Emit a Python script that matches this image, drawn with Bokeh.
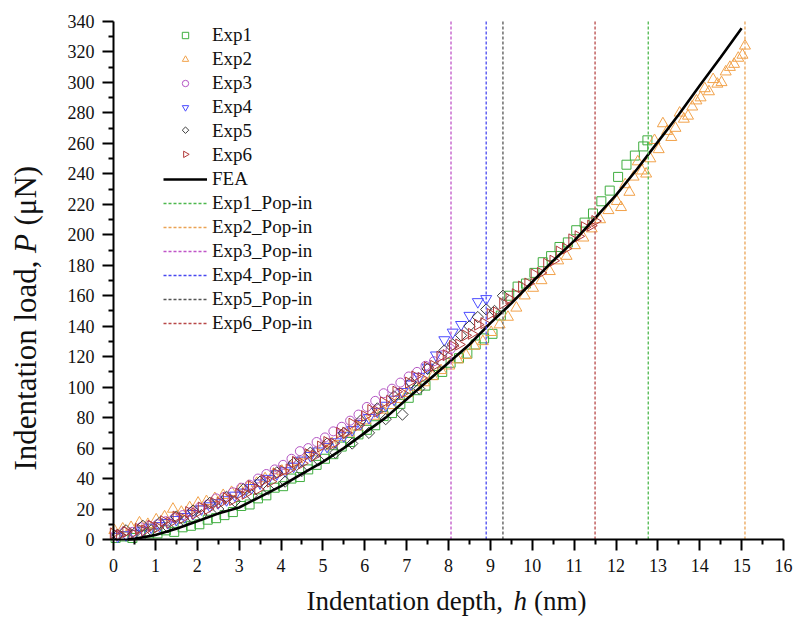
import numpy as np
from bokeh.plotting import figure
from bokeh.models import Range1d, FixedTicker, Legend, LegendItem, Label
from bokeh.embed import file_html
from bokeh.resources import INLINE

# ---------------- data ----------------
x_ticks = list(range(0, 17))
y_ticks = list(range(0, 341, 20))

fea_h = [0.35, 0.5, 1.0, 1.5, 2.0, 2.5, 3.0, 3.5, 4.0, 4.5, 5.0, 5.5, 6.0, 6.5, 7.0, 7.5,
         8.0, 8.5, 9.0, 9.5, 10.0, 10.5, 11.0, 11.5, 12.0, 12.5, 13.0, 13.5, 14.0, 14.5, 15.0]
fea_p = [0.0, 0.4, 3, 7, 12, 17, 21, 28, 35, 43, 51, 60, 70, 80, 92, 104,
         116, 128, 142, 155, 169, 183, 196, 211, 226, 243, 261, 279, 298, 316.5, 335.5]

exp1_h = [0.05, 0.25, 0.45, 0.65, 0.85, 1.05, 1.25, 1.45, 1.65, 1.85, 2.05, 2.25, 2.45, 2.65, 2.85,
          3.05, 3.25, 3.45, 3.65, 3.85, 4.05, 4.25, 4.45, 4.65, 4.85, 5.05, 5.25, 5.45, 5.65, 5.85,
          6.05, 6.25, 6.45, 6.65, 6.85, 7.05, 7.25, 7.45, 7.65, 7.85, 8.05, 8.25, 8.45, 8.65, 8.85,
          9.05, 9.25, 9.45, 9.65, 9.85, 10.05, 10.25, 10.45, 10.65, 10.85, 11.05, 11.25, 11.45,
          11.65, 11.85, 12.05, 12.25, 12.45, 12.65, 12.75]
exp1_p = [1, 2, 1, 3, 4, 4, 6, 5, 8, 9, 10, 13, 14, 16, 18, 22, 23, 27, 29, 34, 35, 40, 41, 46, 49,
          53, 56, 61, 64, 69, 72, 75, 81, 83, 89, 93, 98, 101, 108, 110, 116, 119, 122, 128, 132,
          135, 147, 160, 166, 168, 175, 182, 186, 192, 195, 203, 208, 214, 222, 229, 238, 246, 252,
          258, 262]

exp2_h = [0.02, 0.22, 0.42, 0.62, 0.82, 1.02, 1.22, 1.42, 1.62, 1.82, 2.02, 2.22, 2.42, 2.62, 2.82,
          3.02, 3.22, 3.42, 3.62, 3.82, 4.02, 4.22, 4.42, 4.62, 4.82, 5.02, 5.22, 5.42, 5.62, 5.82,
          6.02, 6.22, 6.42, 6.62, 6.82, 7.02, 7.22, 7.42, 7.62, 7.82, 8.02, 8.22, 8.42, 8.62, 8.82,
          9.02, 9.22, 9.42, 9.62, 9.82, 10.02, 10.22, 10.42, 10.62, 10.82, 11.02, 11.22, 11.42,
          11.62, 11.82, 12.02, 12.12, 12.22, 12.32, 12.42, 12.52, 12.62, 12.72, 12.82, 12.92,
          13.02, 13.12, 13.22, 13.32, 13.42, 13.52, 13.62, 13.72, 13.82, 13.92, 14.02, 14.12,
          14.22, 14.32, 14.42, 14.52, 14.62, 14.72, 14.82, 14.92, 15.02, 15.08]
exp2_p = [6, 7, 8, 11, 10, 13, 15, 20, 18, 21, 24, 25, 27, 29, 31, 33, 35, 37, 40, 43, 45, 48, 51,
          55, 57, 61, 63, 67, 70, 74, 78, 81, 85, 88, 92, 96, 100, 103, 107, 111, 114, 118, 121,
          127, 130, 136, 141, 146, 152, 160, 165, 170, 176, 183, 186, 193, 198, 204, 210, 216, 222,
          218, 233, 228, 238, 248, 242, 240, 250, 262, 256, 273, 268, 264, 270, 280, 276, 278, 284,
          288, 290, 296, 294, 302, 299, 300, 307, 310, 312, 316, 318, 324]

exp3_h = [0.05, 0.25, 0.45, 0.65, 0.85, 1.05, 1.25, 1.45, 1.65, 1.85, 2.05, 2.25, 2.45, 2.65, 2.85,
          3.05, 3.25, 3.45, 3.65, 3.85, 4.05, 4.25, 4.45, 4.65, 4.85, 5.05, 5.25, 5.45, 5.65, 5.85,
          6.05, 6.25, 6.45, 6.65, 6.85, 7.05, 7.25, 7.45, 7.65, 7.85, 8.05]
exp3_p = [3, 5, 5, 8, 9, 10, 12, 14, 16, 18, 21, 23, 27, 28, 31, 34, 36, 40, 43, 46, 49, 53, 58, 60,
          64, 67, 71, 74, 78, 82, 87, 91, 96, 99, 103, 107, 110, 114, 117, 121, 125]

exp4_h = [0.1, 0.3, 0.5, 0.7, 0.9, 1.1, 1.3, 1.5, 1.7, 1.9, 2.1, 2.3, 2.5, 2.7, 2.9, 3.1, 3.3, 3.5,
          3.7, 3.9, 4.1, 4.3, 4.5, 4.7, 4.9, 5.1, 5.3, 5.5, 5.7, 5.9, 6.1, 6.3, 6.5, 6.7, 6.9, 7.1,
          7.3, 7.5, 7.7, 7.9, 8.1, 8.3, 8.5, 8.7, 8.9]
exp4_p = [2, 3, 4, 6, 8, 9, 11, 13, 15, 17, 20, 22, 24, 26, 29, 31, 34, 37, 40, 43, 45, 48, 52, 55,
          58, 61, 64, 68, 72, 76, 80, 84, 88, 92, 97, 102, 107, 113, 121, 131, 136, 141, 147, 156,
          158]

exp5_h = [0.1, 0.3, 0.5, 0.7, 0.9, 1.1, 1.3, 1.5, 1.7, 1.9, 2.1, 2.3, 2.5, 2.7, 2.9, 3.1, 3.3, 3.5,
          3.7, 3.9, 4.1, 4.3, 4.5, 4.7, 4.9, 5.1, 5.3, 5.5, 5.7, 5.9, 6.1, 6.3, 6.5, 6.7, 6.9, 7.1,
          7.3, 7.5, 7.7, 7.9, 8.1, 8.3, 8.5, 8.7, 8.9, 9.1, 9.3]
exp5_p = [3, 6, 4, 9, 6, 11, 8, 15, 12, 19, 16, 24, 20, 28, 25, 33, 29, 38, 33, 44, 38, 50, 45, 57,
          52, 63, 57, 70, 63, 78, 70, 86, 79, 94, 82, 103, 99, 112, 113, 124, 128, 134, 140, 146,
          151, 150, 160]

exp6_h = [0.0, 0.15, 0.3, 0.45, 0.6, 0.75, 0.9, 1.05, 1.2, 1.35, 1.5, 1.65, 1.8, 1.95, 2.1, 2.25,
          2.4, 2.55, 2.7, 2.85, 3.0, 3.15, 3.3, 3.45, 3.6, 3.75, 3.9, 4.05, 4.2, 4.35, 4.5, 4.65,
          4.8, 4.95, 5.1, 5.25, 5.4, 5.55, 5.7, 5.85, 6.0, 6.15, 6.3, 6.45, 6.6, 6.75, 6.9, 7.05,
          7.2, 7.35, 7.5, 7.65, 7.8, 7.95, 8.1, 8.25, 8.4, 8.55, 8.7, 8.85, 9.0, 9.15, 9.3, 9.45,
          9.6, 9.75, 9.9, 10.05, 10.2, 10.35, 10.5, 10.65, 10.8, 10.95, 11.1, 11.25, 11.4, 11.5]
exp6_p = [4, 3, 5, 4, 7, 6, 9, 8, 12, 11, 15, 14, 18, 17, 21, 20, 24, 24, 27, 26, 30, 30, 35, 33,
          39, 38, 43, 45, 46, 51, 50, 56, 55, 61, 64, 63, 70, 70, 76, 75, 81, 85, 84, 90, 91, 97,
          96, 103, 107, 106, 113, 114, 120, 121, 127, 128, 134, 135, 141, 142, 148, 149, 155, 158,
          161, 166, 168, 174, 175, 181, 183, 189, 191, 197, 199, 205, 206, 209]

popin_names = ["Exp1_Pop-in", "Exp2_Pop-in", "Exp3_Pop-in", "Exp4_Pop-in", "Exp5_Pop-in", "Exp6_Pop-in"]
popin_h = [12.77, 15.08, 8.06, 8.90, 9.30, 11.50]

# ---------------- layout (pixels in the canvas) ----------------
W, H = 795, 618
AX_L, AX_R, AX_T, AX_B = 113, 783, 21, 539     # where the data box sits
px_x = (AX_R - AX_L) / (x_ticks[-1] - x_ticks[0])
px_y = (AX_B - AX_T) / (y_ticks[-1] - y_ticks[0])
x_rng = Range1d(x_ticks[0] - AX_L / px_x, x_ticks[-1] + (W - AX_R) / px_x)
y_rng = Range1d(y_ticks[0] - (H - AX_B) / px_y, y_ticks[-1] + AX_T / px_y)

# legend geometry (canvas pixels)
LEG_X, LEG_Y = 163, 283          # legend anchor (from left / from bottom)
LEG_ROW0, LEG_ROW = 33.0, 24.17  # centre of first row, row pitch (from top)
LEG_GLYPH_CX = LEG_X + 22

exp_colors = ["#3fae3f", "#f2a24a", "#b455c4", "#4b4bff", "#3c3c3c", "#b23a3a"]
pop_colors = ["#4cb84c", "#eba355", "#c055c8", "#4848f0", "#555555", "#b84848"]
SERIF = "Liberation Serif"

p = figure(width=W, height=H, x_range=x_rng, y_range=y_rng,
           output_backend="svg", toolbar_location=None, min_border=0)
p.outline_line_color = None
p.xgrid.visible = False
p.ygrid.visible = False
p.background_fill_color = "white"
p.border_fill_color = "white"

p.xaxis.ticker = FixedTicker(ticks=x_ticks, minor_ticks=[t + 0.5 for t in x_ticks[:-1]])
p.yaxis.ticker = FixedTicker(ticks=y_ticks, minor_ticks=[t + 10 for t in y_ticks[:-1]])
p.xaxis.fixed_location = y_ticks[0]
p.yaxis.fixed_location = x_ticks[0]
p.xaxis.bounds = (x_ticks[0], x_ticks[-1])
p.yaxis.bounds = (y_ticks[0], y_ticks[-1])
for ax in (p.xaxis[0], p.yaxis[0]):
    ax.axis_line_width = 2
    ax.axis_line_color = "black"
    ax.major_tick_out = 11
    ax.major_tick_in = 0
    ax.minor_tick_out = 5
    ax.minor_tick_in = 0
    ax.major_tick_line_width = 2
    ax.minor_tick_line_width = 2
    ax.major_tick_line_color = "black"
    ax.minor_tick_line_color = "black"
    ax.major_label_text_font = SERIF
    ax.major_label_text_font_size = "18px"
    ax.major_label_text_color = "#111111"
p.xaxis.major_label_standoff = 8
p.yaxis.major_label_standoff = 8

# marker, size, angle, legend-size (legend-size None -> Bokeh's own legend glyph)
markers = [("square", 9, 0.0, None), ("triangle", 11, 0.0, None), ("circle", 9, 0.0, None),
           ("inverted_triangle", 11, 0.0, None), ("square", 8, np.pi / 4, 4.6),
           ("triangle", 11, -np.pi / 2, 6.4)]
series = [(exp1_h, exp1_p), (exp2_h, exp2_p), (exp3_h, exp3_p),
          (exp4_h, exp4_p), (exp5_h, exp5_p), (exp6_h, exp6_p)]
items = []
for i, ((hh, pp), (mk, sz, ang, lsz), col) in enumerate(zip(series, markers, exp_colors)):
    r = p.scatter(hh, pp, marker=mk, size=sz, angle=ang, fill_color=None,
                  line_color=col, line_width=1)
    if lsz is None:
        items.append(LegendItem(label="Exp%d" % (i + 1), renderers=[r]))
    else:
        # Bokeh's legend ignores the marker angle: use a blank entry and draw the
        # rotated symbol in the legend slot.
        blank = p.scatter([], [], marker=mk, size=sz, fill_alpha=0, line_alpha=0)
        items.append(LegendItem(label="Exp%d" % (i + 1), renderers=[blank]))
        cy = LEG_ROW0 + i * LEG_ROW
        p.scatter([x_rng.start + LEG_GLYPH_CX / px_x], [y_rng.end - cy / px_y],
                  marker=mk, size=lsz, angle=ang, fill_color=None, line_color=col,
                  line_width=1)

fea_r = p.line(fea_h, fea_p, line_color="black", line_width=2.6)
items.append(LegendItem(label="FEA", renderers=[fea_r]))

for hv, col, name in zip(popin_h, pop_colors, popin_names):
    r = p.segment(x0=[hv], y0=[y_ticks[0]], x1=[hv], y1=[y_ticks[-1]],
                  line_color=col, line_width=1.3, line_dash="3 2")
    items.append(LegendItem(label=name, renderers=[r]))

legend = Legend(items=items, location=(LEG_X, LEG_Y), padding=0, margin=0, spacing=0,
                glyph_width=44, glyph_height=16, label_height=24, label_standoff=5,
                label_text_font=SERIF, label_text_font_size="19px",
                label_text_color="#111111",
                border_line_color=None, background_fill_alpha=0)
p.add_layout(legend)

# axis titles (pieces so the symbols can be italic)
for txt, xx, st in [("Indentation depth,", 306.0, "normal"), ("h", 513.0, "italic"),
                    ("(nm)", 533.5, "normal")]:
    p.add_layout(Label(x=xx, y=18, x_units="screen", y_units="screen", text=txt,
                       text_font=SERIF, text_font_size="27px", text_font_style=st,
                       text_align="left", text_baseline="alphabetic", text_color="#111111"))
for txt, yy, st in [("Indentation load,", 148.0, "normal"), ("P", 365.4, "italic"),
                    ("(μN)", 393.0, "normal")]:
    p.add_layout(Label(x=25, y=yy, x_units="screen", y_units="screen", text=txt,
                       angle=np.pi / 2, text_font=SERIF, text_font_size="31px",
                       text_font_style=st, text_align="left", text_baseline="alphabetic",
                       text_color="#111111"))

open("out.html", "w").write(file_html(p, INLINE))
